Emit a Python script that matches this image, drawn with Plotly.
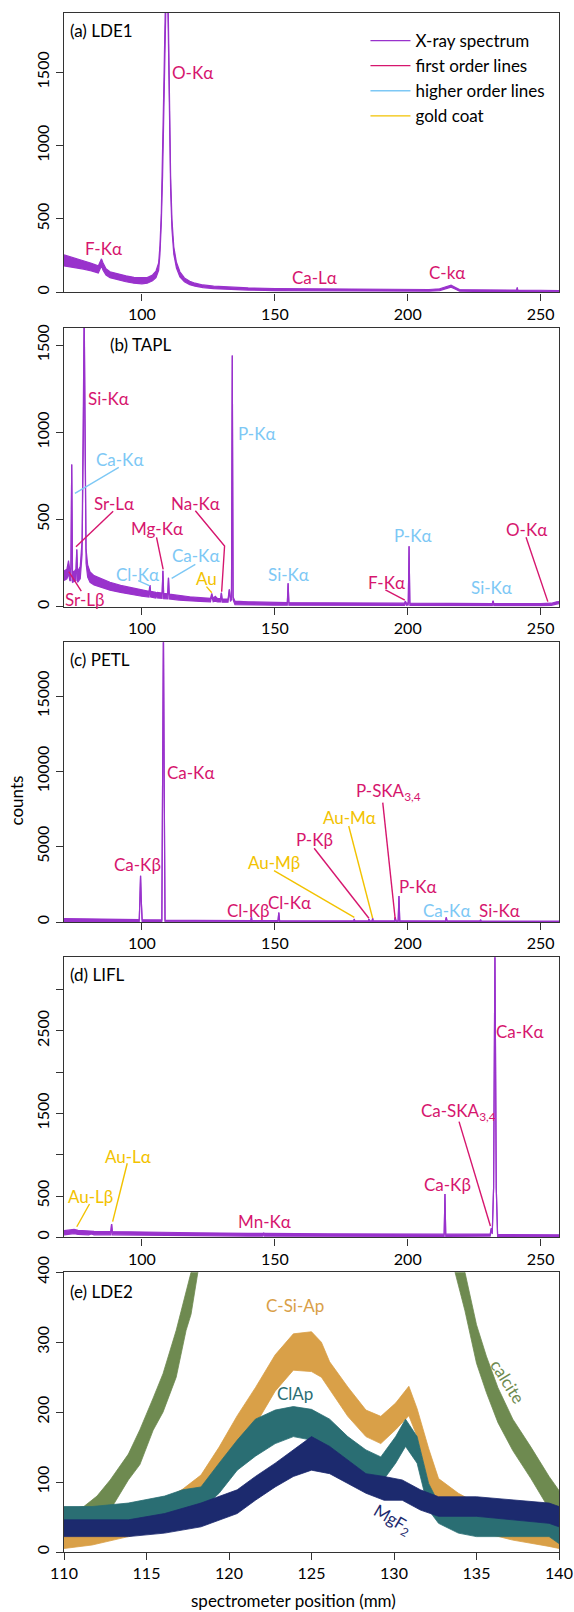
import plotly.graph_objects as go

# ---------------- colours ----------------
PURPLE = "#9932CC"
MAG = "#D6166E"
BLUE = "#7DC8F5"
GOLD = "#F2C200"
CALC = "#6E8A50"
CSIAP = "#D9A048"
CLAP = "#2A6E73"
MGF2 = "#1C2A6E"
FONT = "Lato, Liberation Sans, sans-serif"

# ---------------- panel (a) LDE1 spectrum (lower / upper noise envelope) ----------------
a_x = [70.7, 74, 78, 81, 83.6, 84.3, 84.8, 85.4, 86.5, 88, 91, 94, 97, 100, 102, 104, 105.3,
       106.3, 106.8, 107.3, 107.8, 108.3, 108.8, 109.4, 109.9, 110.3, 110.8, 111.3, 112.0,
       113.0, 114.3, 116, 118, 120, 123, 127, 132, 140, 150, 165, 180, 195, 208, 212, 214.5,
       216.3, 217.8, 219.5, 225, 235, 241.0, 241.2, 241.4, 250, 256.9]
a_lo = [180, 172, 158, 145, 132, 160, 180, 150, 118, 100, 85, 72, 62, 58, 62, 78, 100,
        150, 260, 470, 800, 1300, 1800, 2300, 1800, 1200, 700, 430, 260,
        165, 105, 72, 52, 42, 32, 25, 20, 15, 12, 10, 9, 8, 8, 12, 25,
        35, 22, 8, 6, 5, 5, 30, 5, 4, 3]
a_hi = [255, 238, 215, 198, 180, 205, 228, 200, 160, 140, 125, 112, 102, 98, 100, 118, 145,
        200, 320, 540, 900, 1450, 1950, 2300, 1950, 1350, 800, 500, 310,
        205, 140, 98, 75, 62, 50, 42, 36, 30, 26, 23, 21, 19, 19, 24, 38,
        48, 34, 19, 17, 15, 15, 33, 15, 14, 12]

# ---------------- panel (b) TAPL ----------------
b_x = [70.7, 71.8, 72.4, 72.9, 73.3, 73.6, 73.9, 74.7, 75.2, 75.5, 75.8, 76.8, 77.5, 78.0, 78.3,
       78.6, 79.0, 79.6, 80.5, 82, 85, 88, 92, 96, 100, 102.7, 103.0, 103.3, 105.2, 105.5, 105.8,
       107.6, 107.9, 108.2, 109.7, 110.0, 110.3, 114, 118, 122, 125.8, 126.3, 126.8, 127.6, 128.5,
       129.6, 129.9, 130.2, 132.4, 132.9, 133.3, 133.7, 134.0, 134.3, 135, 140, 150, 154.7, 155.0,
       155.3, 170, 190, 198.8, 199.1, 199.5, 200.2, 200.5, 200.8, 215, 231.8, 232.1, 232.4, 250,
       254, 256.0, 256.9]
b_lo = [150, 160, 190, 150, 150, 815, 140, 145, 150, 328, 140, 160, 300, 1000, 1700,
        1000, 250, 170, 140, 125, 110, 95, 82, 70, 60, 55, 124, 55, 50, 76, 50,
        48, 206, 46, 45, 166, 44, 38, 33, 30, 28, 62, 28, 32, 27,
        27, 80, 26, 26, 99, 30, 40, 1441, 40, 12, 10, 9, 9, 134,
        9, 8, 7, 8, 29, 8, 10, 347, 8, 6, 6, 32, 6, 6,
        8, 15, 18]
b_hi = [205, 215, 265, 210, 215, 815, 200, 205, 215, 328, 200, 230, 380, 1100, 1700,
        1100, 330, 240, 200, 178, 158, 140, 122, 108, 95, 88, 124, 88, 82, 78, 82,
        78, 206, 76, 74, 166, 72, 64, 57, 52, 48, 76, 48, 60, 46,
        46, 80, 44, 44, 99, 50, 60, 1441, 55, 32, 28, 24, 24, 134,
        24, 22, 20, 20, 32, 20, 22, 347, 20, 18, 18, 35, 18, 18,
        20, 28, 30]

# ---------------- panel (c) PETL ----------------
c_x = [70.7, 85, 99.0, 99.25, 99.5, 99.75, 100.1, 107.5, 107.8, 108.1, 108.4, 108.7, 120,
       141.0, 141.2, 141.4, 151.2, 151.5, 151.8, 170, 179.7, 179.9, 180.1, 185.2, 185.4,
       185.6, 186.6, 186.8, 187.0, 195.0, 195.3, 195.6, 196.4, 196.7, 197.0, 214.2, 214.5,
       214.8, 227.2, 227.4, 227.6, 256.9]
c_lo = [20, 30, 20, 1500, 3075, 1500, 20, 20, 9000, 19500, 9000, 20, 10,
        10, 350, 10, 10, 620, 10, 5, 5, 200, 5, 5, 200,
        5, 5, 250, 5, 5, 300, 5, 5, 1726, 5, 5, 300,
        5, 5, 150, 5, 0]
c_hi = [230, 190, 160, 1500, 3075, 1500, 150, 140, 9000, 19500, 9000, 130, 110,
        90, 350, 90, 90, 620, 90, 80, 80, 200, 80, 80, 200,
        80, 80, 250, 80, 80, 300, 80, 80, 1726, 80, 70, 300,
        70, 70, 150, 70, 60]

# ---------------- panel (d) LIFL ----------------
d_x = [70.7, 73.0, 74.5, 76, 80, 81, 82, 88.3, 88.6, 88.9, 100, 120, 140, 145.5, 145.8,
       146.1, 170, 200, 213.7, 214.0, 214.3, 231.0, 231.4, 231.8, 232.3, 232.8, 233.3,
       233.8, 256.9]
d_lo = [30, 40, 45, 35, 30, 40, 30, 30, 161, 30, 25, 20, 15, 15, 55,
        15, 12, 10, 10, 524, 10, 15, 100, 40, 600, 3500, 600,
        10, 5]
d_hi = [80, 90, 95, 85, 75, 80, 72, 70, 161, 70, 62, 55, 48, 48, 55,
        48, 42, 38, 38, 524, 38, 40, 110, 60, 600, 3500, 600,
        35, 30]

# ---------------- panel (e) LDE2 ----------------
calc_x = [110.0, 111.2, 112.0, 112.8, 113.9, 114.6, 115.4, 116.0, 116.8, 117.4, 117.7, 118.1, 118.6,
          133.2, 133.7, 134.3, 135.0, 135.6, 136.3, 137.2, 138.3, 139.4, 140.0]
calc_lo = [30, 42, 48, 60, 103, 125, 174, 200, 250, 317, 340, 398, 450,
           450, 400, 345, 270, 228, 185, 145, 105, 62, 38]
calc_hi = [60, 65, 80, 103, 140, 175, 220, 255, 317, 370, 400, 450, 500,
           500, 455, 400, 325, 280, 235, 190, 150, 108, 88]

csiap_x = [110.0, 111.7, 113.9, 116.1, 117.2, 118.3, 119.4, 120.5, 121.6, 122.8, 123.9, 125.0,
           125.6, 126.1, 127.2, 128.3, 129.2, 130.1, 130.9, 131.4, 132.1, 132.7, 133.9, 135.0,
           137.2, 139.4, 140.0]
csiap_lo = [5, 10, 22, 36, 50, 68, 98, 135, 182, 230, 260, 258,
            250, 232, 194, 165, 155, 175, 195, 165, 98, 65, 41, 30,
            17, 8, 5]
csiap_hi = [42, 46, 56, 75, 90, 110, 150, 195, 235, 282, 312, 315,
            300, 272, 236, 203, 194, 213, 237, 205, 148, 105, 84, 70,
            52, 42, 38]

clap_x = [110.0, 111.7, 113.9, 116.1, 117.2, 118.3, 119.4, 120.5, 121.6, 122.8, 123.9, 125.0,
          126.1, 127.2, 128.3, 129.2, 130.1, 130.7, 131.4, 132.1, 132.7, 133.9, 135.0, 137.2,
          139.4, 140.0]
clap_lo = [30, 31, 40, 46, 51, 60, 84, 117, 137, 155, 165, 160,
           146, 127, 108, 98, 127, 151, 127, 60, 41, 27, 22, 22,
           22, 12]
clap_hi = [65, 65, 70, 80, 89, 93, 127, 160, 190, 203, 208, 204,
           190, 165, 146, 136, 165, 190, 165, 98, 70, 55, 55, 51,
           55, 41]

mgf2_x = [110.0, 113.9, 116.1, 118.3, 120.5, 121.6, 122.8, 123.9, 125.0, 126.1, 127.2, 128.3,
          129.4, 130.5, 131.6, 132.7, 135.0, 137.2, 139.4, 140.0]
mgf2_lo = [22, 22, 27, 36, 55, 74, 93, 108, 117, 112, 98, 84,
           74, 74, 60, 51, 51, 46, 41, 36]
mgf2_hi = [46, 46, 55, 70, 89, 108, 127, 146, 165, 151, 132, 112,
           108, 103, 89, 79, 79, 74, 70, 65]

# ---------------- line labels: (text, x, y, kind) ----------------
a_labels = [("O-Kα", 119.1, 1496, "first"), ("F-Kα", 85.5, 298, "first"),
            ("Ca-Lα", 165.0, 100, "first"), ("C-kα", 214.9, 134, "first")]
b_labels = [("Si-Kα", 87.5, 1195, "first"), ("Ca-Kα", 91.4, 845, "higher"),
            ("Sr-Lα", 89.5, 593, "first"), ("Sr-Lβ", 78.3, 42, "first"),
            ("Mg-Kα", 105.5, 450, "first"), ("Cl-Kα", 98.3, 187, "higher"),
            ("Ca-Kα", 120.2, 291, "higher"), ("Au", 124.3, 163, "gold"),
            ("Na-Kα", 120.3, 593, "first"), ("P-Kα", 143.2, 994, "higher"),
            ("Si-Kα", 155.0, 187, "higher"), ("F-Kα", 191.9, 138, "first"),
            ("P-Kα", 201.9, 411, "higher"), ("Si-Kα", 231.6, 111, "higher"),
            ("O-Kα", 244.7, 440, "first")]
c_labels = [("Ca-Kα", 118.4, 9914, "first"), ("Ca-Kβ", 98.2, 3831, "first"),
            ("Cl-Kβ", 139.9, 797, "first"), ("Cl-Kα", 155.4, 1282, "first"),
            ("Au-Mβ", 149.8, 3938, "gold"), ("P-Kβ", 164.9, 5445, "first"),
            ("Au-Mα", 178.2, 6952, "gold"), ("P-Kα", 203.8, 2390, "first"),
            ("Ca-Kα", 214.6, 797, "higher"), ("Si-Kα", 234.5, 797, "first")]
c_left_labels = [("P-SKA<sub>3,4</sub>", 179.6, 8652, "first")]
d_labels = [("Ca-Kα", 242.2, 2489, "first"), ("Ca-Kβ", 215.1, 645, "first"),
            ("Au-Lα", 94.6, 984, "gold"), ("Au-Lβ", 80.5, 500, "gold"),
            ("Mn-Kα", 146.1, 189, "first")]
d_left_labels = [("Ca-SKA<sub>3,4</sub>", 204.2, 1521, "first")]

# ---------------- leader lines: (xs, ys, kind) ----------------
b_leaders = [([89.2, 75.2], [548, 344], "first"), ([91.3, 74.8], [799, 650], "higher"),
             ([77.2, 72.5], [90, 201], "first"), ([105.5, 108.0], [398, 214], "first"),
             ([98.6, 103.0], [149, 119], "higher"), ([120.1, 111.2], [243, 163], "higher"),
             ([124.3, 126.3], [115, 80], "gold"),
             ([120.1, 131.1, 130.0], [550, 348, 86], "first"),
             ([191.6, 198.9], [96, 38], "first"), ([244.5, 252.7], [398, 29], "first")]
c_leaders = [([149.7, 179.9], [3406, 312], "gold"), ([164.8, 185.4], [4894, 246], "first"),
             ([177.8, 186.8], [6375, 246], "gold"), ([190.6, 195.3], [7921, 179], "first")]
d_leaders = [([219.3, 231.1], [1400, 137], "first"), ([94.5, 89.0], [896, 189], "gold"),
             ([80.3, 75.5], [403, 128], "gold")]

# ---------------- panel (e) labels ----------------
e_labels = [("C-Si-Ap", 124.0, 352, CSIAP, 0), ("ClAp", 124.0, 227, CLAP, 0),
            ("calcite", 136.9, 244, CALC, 58), ("MgF<sub>2</sub>", 129.9, 46, MGF2, 30)]

KIND_COL = {"first": MAG, "higher": BLUE, "gold": GOLD}
KIND_NAME = {"first": "first order lines", "higher": "higher order lines", "gold": "gold coat"}
KIND_RANK = {"first": 2, "higher": 3, "gold": 4}

fig = go.Figure()
W = 1.2


def add_band(x, lo, hi, color, xa, ya, name=None, legend=False, rank=None, width=W):
    fig.add_trace(go.Scatter(x=x, y=lo, mode="lines", line=dict(color=color, width=width),
                             xaxis=xa, yaxis=ya, showlegend=legend, name=name,
                             legendrank=rank if rank else 1000, hoverinfo="skip"))
    fig.add_trace(go.Scatter(x=x, y=hi, mode="lines", line=dict(color=color, width=width),
                             fill="tonexty", fillcolor=color, xaxis=xa, yaxis=ya,
                             showlegend=False, hoverinfo="skip"))


add_band(a_x, a_lo, a_hi, PURPLE, "x", "y", name="X-ray spectrum", legend=True, rank=1)
add_band(b_x, b_lo, b_hi, PURPLE, "x2", "y2")
add_band(c_x, c_lo, c_hi, PURPLE, "x3", "y3")
add_band(d_x, d_lo, d_hi, PURPLE, "x4", "y4")

add_band(calc_x, calc_lo, calc_hi, CALC, "x5", "y5", width=0.8)
add_band(csiap_x, csiap_lo, csiap_hi, CSIAP, "x5", "y5", width=0.8)
add_band(clap_x, clap_lo, clap_hi, CLAP, "x5", "y5", width=0.8)
add_band(mgf2_x, mgf2_lo, mgf2_hi, MGF2, "x5", "y5", width=0.8)

seen = set()
for leaders, xa, ya in [(b_leaders, "x2", "y2"), (c_leaders, "x3", "y3"), (d_leaders, "x4", "y4")]:
    for xs, ys, kind in leaders:
        show = kind not in seen
        seen.add(kind)
        fig.add_trace(go.Scatter(x=xs, y=ys, mode="lines", xaxis=xa, yaxis=ya,
                                 line=dict(color=KIND_COL[kind], width=1.4),
                                 name=KIND_NAME[kind], showlegend=show,
                                 legendrank=KIND_RANK[kind], hoverinfo="skip"))

ann = []
for labels, xr, yr in [(a_labels, "x", "y"), (b_labels, "x2", "y2"), (c_labels, "x3", "y3"),
                       (d_labels, "x4", "y4")]:
    for t, x, y, kind in labels:
        ann.append(dict(text=t, x=x, y=y, xref=xr, yref=yr, showarrow=False,
                        xanchor="center", yanchor="middle",
                        font=dict(size=17, color=KIND_COL[kind], family=FONT)))
for labels, xr, yr in [(c_left_labels, "x3", "y3"), (d_left_labels, "x4", "y4")]:
    for t, x, y, kind in labels:
        ann.append(dict(text=t, x=x, y=y, xref=xr, yref=yr, showarrow=False,
                        xanchor="left", yanchor="middle",
                        font=dict(size=17, color=KIND_COL[kind], family=FONT)))
for t, x, y, col, ang in e_labels:
    ann.append(dict(text=t, x=x, y=y, xref="x5", yref="y5", showarrow=False,
                    xanchor="center", yanchor="middle", textangle=ang,
                    font=dict(size=17, color=col, family=FONT)))

panel_titles = [("(a) LDE1", "x", "y", 0.008, 0.938), ("(b) TAPL", "x2", "y2", 0.088, 0.940),
                ("(c) PETL", "x3", "y3", 0.008, 0.937), ("(d) LIFL", "x4", "y4", 0.008, 0.940),
                ("(e) LDE2", "x5", "y5", 0.008, 0.933)]
for t, xr, yr, xx, yy in panel_titles:
    ann.append(dict(text=t, x=xx, y=yy, xref=xr + " domain", yref=yr + " domain",
                    showarrow=False, xanchor="left", yanchor="middle",
                    font=dict(size=17, color="black", family=FONT)))

ann.append(dict(text="counts", x=-0.096, y=0.4886, xref="paper", yref="paper",
                showarrow=False, textangle=-90, xanchor="center", yanchor="middle",
                font=dict(size=17, color="black", family=FONT)))
ann.append(dict(text="spectrometer position (mm)", x=0.464, y=-0.0312, xref="paper",
                yref="paper", showarrow=False, xanchor="center", yanchor="middle",
                font=dict(size=17, color="black", family=FONT)))

axis_common = dict(showline=True, mirror=True, linecolor="#333333", linewidth=1.4,
                   ticks="outside", ticklen=7, tickwidth=1.4, tickcolor="#333333",
                   showgrid=False, zeroline=False, automargin=False,
                   tickfont=dict(size=16, color="black", family=FONT))

H = 1539.0
BOT = 1552.0


def dom(top, bottom):
    return [max(0.0, (BOT - bottom) / H), min(1.0, (BOT - top) / H)]


spec_ticks = [100, 150, 200, 250]
layout = dict(
    template="none",
    width=574, height=1612,
    margin=dict(l=64, r=14.5, t=13, b=60, autoexpand=False),
    paper_bgcolor="white", plot_bgcolor="white",
    font=dict(family=FONT, size=17, color="black"),
    annotations=ann,
    showlegend=True,
    legend=dict(x=0.609, y=0.9935, xanchor="left", yanchor="top", bgcolor="rgba(0,0,0,0)",
                font=dict(size=17, color="black", family=FONT), itemwidth=40,
                traceorder="normal", tracegroupgap=0, borderwidth=0),
)
panels = [(12.7, 292.3), (327.7, 606.7), (642.3, 922.0), (957.3, 1237.3), (1272.3, 1552.0)]
yranges = [[0, 1904], [0, 1600], [0, 18570], [0, 3390], [0, 400]]
ytv = [[0, 500, 1000, 1500], [0, 500, 1000, 1500], [0, 5000, 10000, 15000],
       [0, 500, 1500, 2500], [0, 100, 200, 300, 400]]
ytt = [["0", "500", "1000", "1500"], ["0", "500", "1000", "1500"],
       ["0", "5000", "10000", "15000"], ["0", "500", "1500", "2500"],
       ["0", "100", "200", "300", "400"]]
d_minor = [1000, 2000, 3000]
for i in range(5):
    s = "" if i == 0 else str(i + 1)
    yname = "y" + s
    xname = "x" + s
    if i < 4:
        xr = [70.7, 256.9]
        xt = spec_ticks
    else:
        xr = [110, 140]
        xt = [110, 115, 120, 125, 130, 135, 140]
    layout["xaxis" + s] = dict(axis_common, range=xr, tickvals=xt, anchor=yname,
                               domain=[0, 1])
    ya = dict(axis_common, range=yranges[i], tickvals=ytv[i],
              ticktext=ytt[i], tickangle=-90, anchor=xname, domain=dom(*panels[i]))
    if i == 3:
        ya["minor"] = dict(tickvals=d_minor, ticks="outside", ticklen=7, tickwidth=1.4,
                           tickcolor="#333333", showgrid=False)
    layout["yaxis" + s] = ya

fig.update_layout(**layout)
fig.write_html("out.html",
               config={"displayModeBar": False},
               post_script="document.body.style.margin='0';"
                           "document.body.style.overflow='hidden';")
